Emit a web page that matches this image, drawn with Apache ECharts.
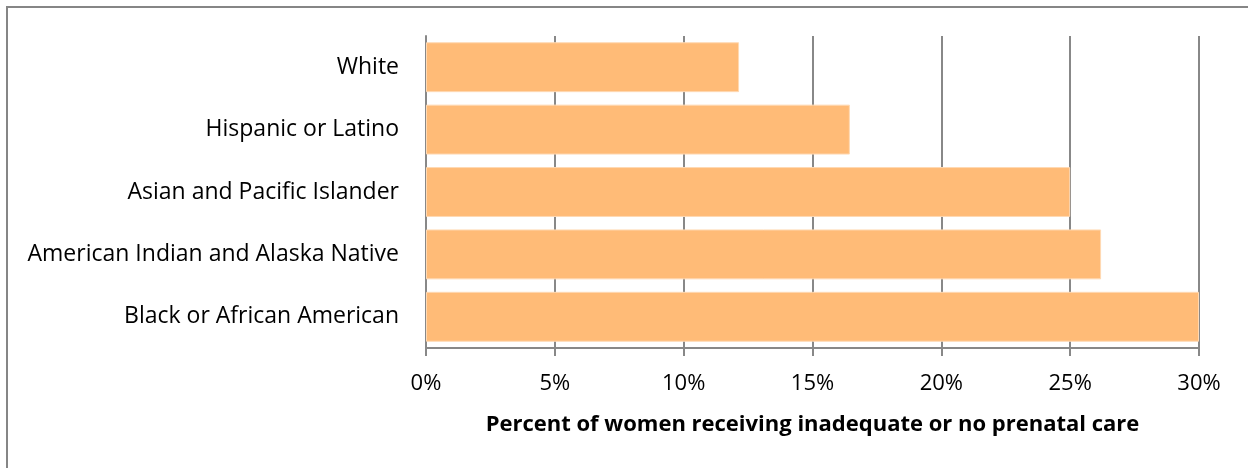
<!DOCTYPE html>
<html>
<head>
<meta charset="utf-8">
<script src="https://cdn.jsdelivr.net/npm/echarts@6/dist/echarts.min.js"></script>
<style>
html,body{margin:0;padding:0;background:#fff;}
#chart{width:1248px;height:468px;}
</style>
</head>
<body>
<div id="chart"></div>
<script>
const categories = ["Black or African American", "American Indian and Alaska Native", "Asian and Pacific Islander", "Hispanic or Latino", "White"];
const values = [30.0, 26.2, 25.0, 16.45, 12.15];
const xTicks = [0, 5, 10, 15, 20, 25, 30];
const axisTitle = "Percent of women receiving inadequate or no prenatal care";

const FONT = "Open Sans";
const chart = echarts.init(document.getElementById('chart'), null, {renderer: 'canvas'});
chart.setOption({
  animation: false,
  backgroundColor: '#fff',
  grid: {left: 426, right: 49, top: 36, bottom: 120, containLabel: false},
  xAxis: {
    type: 'value',
    min: xTicks[0],
    max: xTicks[xTicks.length - 1],
    interval: 5,
    axisLine: {show: true, lineStyle: {color: '#888', width: 2}},
    axisTick: {show: true, length: 8, lineStyle: {color: '#888', width: 2}},
    splitLine: {show: true, lineStyle: {color: '#888', width: 2}},
    axisLabel: {formatter: v => v + '%', color: '#000', fontFamily: FONT, fontSize: 22, margin: 25},
    name: axisTitle,
    nameLocation: 'middle',
    nameGap: 66,
    nameTextStyle: {color: '#000', fontFamily: FONT, fontSize: 22, fontWeight: 'bold', verticalAlign: 'top'}
  },
  yAxis: {
    type: 'category',
    data: categories,
    axisLine: {show: true, lineStyle: {color: '#888', width: 2}},
    axisTick: {show: false},
    axisLabel: {color: '#000', fontFamily: FONT, fontSize: 23, margin: 27, padding: [4, 0, 0, 0]}
  },
  series: [{
    type: 'bar',
    data: values,
    barCategoryGap: '20%',
    itemStyle: {color: '#FFBB77', borderColor: '#FFD9B3', borderWidth: 1},
    silent: true
  }],
  graphic: [
    {type: 'line', shape: {x1: 7, y1: 7, x2: 7, y2: 468}, style: {stroke: '#868686', lineWidth: 2}},
    {type: 'line', shape: {x1: 6, y1: 7, x2: 1248, y2: 7}, style: {stroke: '#868686', lineWidth: 2}}
  ]
});
</script>
</body>
</html>
